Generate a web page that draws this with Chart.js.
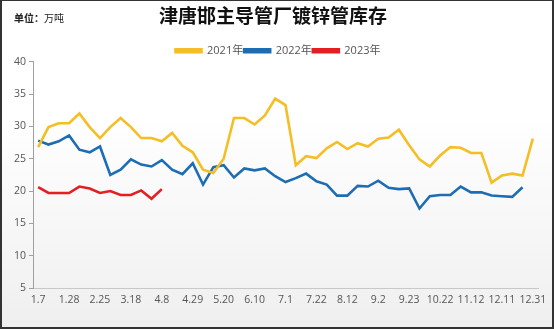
<!DOCTYPE html>
<html lang="zh-CN">
<head>
<meta charset="UTF-8">
<title>津唐邯主导管厂镀锌管库存</title>
<script src="https://cdn.jsdelivr.net/npm/chart.js@4.4.1/dist/chart.umd.min.js"></script>
<style>
    html, body { margin: 0; padding: 0; }
    #marco {
        position: relative;
        width: 554px;
        height: 329px;
        background: linear-gradient(to bottom, #ffffff 35%, #efefef 100%);
        font-family: "Noto Sans CJK SC", "Noto Sans", sans-serif;
    }
    #borde {
        position: absolute;
        left: 0; top: 0; right: 0; bottom: 0;
        border: 2px solid #333;
        border-top-width: 1px;
        pointer-events: none;
    }
    #unidad {
        position: absolute;
        left: 14px;
        top: 10px;
        font-size: 10px;
        color: #222;
    }
    #unidad b { font-weight: bold; }
    canvas { display: block; }
</style>
</head>
<body>
<div id="marco">
    <canvas id="myChart" width="554" height="329"></canvas>
    <div id="unidad"><b>单位：</b>万吨</div>
    <div id="borde"></div>
</div>
<script>
// Semanas del año (una por punto) y las que se rotulan en el eje X
const semanas = ['1.7', '1.14', '1.21', '1.28', '2.4', '2.18', '2.25', '3.4', '3.11', '3.18',
    '3.25', '4.1', '4.8', '4.15', '4.22', '4.29', '5.6', '5.13', '5.20', '5.27',
    '6.3', '6.10', '6.17', '6.24', '7.1', '7.8', '7.15', '7.22', '7.29', '8.5',
    '8.12', '8.19', '8.26', '9.2', '9.9', '9.16', '9.23', '9.30', '10.14', '10.22',
    '10.28', '11.4', '11.12', '11.18', '11.25', '12.11', '12.17', '12.24', '12.31'];
const etiquetasX = ['1.7', '1.28', '2.25', '3.18', '4.8', '4.29', '5.20', '6.10', '7.1',
    '7.22', '8.12', '9.2', '9.23', '10.22', '11.12', '12.11', '12.31'];

// Inventario semanal (万吨)
const inv2021 = [26.8, 29.9, 30.5, 30.5, 32.0, 29.9, 28.2, 29.9, 31.3, 29.9,
    28.2, 28.2, 27.7, 29.0, 27.0, 26.0, 23.3, 22.8, 25.0, 31.3,
    31.3, 30.3, 31.7, 34.3, 33.3, 24.0, 25.4, 25.1, 26.6, 27.6,
    26.5, 27.4, 26.9, 28.1, 28.3, 29.5, 27.1, 24.9, 23.8, 25.5,
    26.8, 26.7, 25.9, 25.9, 21.3, 22.4, 22.7, 22.4, 28.1];
const inv2022 = [27.8, 27.2, 27.7, 28.6, 26.4, 26.0, 26.9, 22.5, 23.3, 24.9,
    24.1, 23.8, 24.8, 23.3, 22.6, 24.3, 21.0, 23.7, 24.0, 22.1,
    23.5, 23.2, 23.5, 22.3, 21.4, 22.0, 22.7, 21.5, 21.0, 19.3,
    19.3, 20.8, 20.7, 21.6, 20.5, 20.3, 20.4, 17.3, 19.2, 19.4,
    19.4, 20.7, 19.8, 19.8, 19.3, 19.2, 19.1, 20.6];
const inv2023 = [20.6, 19.7, 19.7, 19.7, 20.7, 20.4, 19.7, 20.0, 19.4, 19.4,
    20.1, 18.8, 20.3];

const ticksY = [5, 10, 15, 20, 25, 30, 35, 40];

const fuente = '"Open Sans", "Noto Sans CJK SC", sans-serif';

function serie(label, data, color) {
    return {
        label,
        data,
        borderColor: color,
        backgroundColor: color,
        borderWidth: 2.6,
        pointRadius: 0,
        pointHoverRadius: 0,
        tension: 0,
        fill: false
    };
}

// Desplaza título y leyenda un poco a la derecha (el área del gráfico no se toca)
const desplazarCabecera = {
    id: 'desplazarCabecera',
    afterLayout(chart) {
        chart.titleBlock.left += 4;
        chart.titleBlock.right += 4;
        chart.legend.left += 9;
        chart.legend.right += 9;
    }
};

function graficar() {
    const ctx = document.getElementById('myChart').getContext('2d');

    new Chart(ctx, {
        type: 'line',
        data: {
            labels: semanas,
            datasets: [
                serie('2021年', inv2021, '#F4BE24'),
                serie('2022年', inv2022, '#1C6DB3'),
                serie('2023年', inv2023, '#E51E22')
            ]
        },
        plugins: [desplazarCabecera],
        options: {
            responsive: false,
            animation: false,
            layout: { padding: { left: 0, right: 16, top: 0, bottom: 0 } },
            plugins: {
                tooltip: { enabled: false },
                title: {
                    display: true,
                    text: '津唐邯主导管厂镀锌管库存',
                    color: '#111',
                    font: { family: '"Noto Sans CJK SC", sans-serif', size: 19, weight: 'bold' },
                    padding: { top: 4, bottom: 17.5 }
                },
                legend: {
                    display: true,
                    position: 'top',
                    maxHeight: 17.5,
                    labels: {
                        boxWidth: 26,
                        boxHeight: 3,
                        color: '#555',
                        padding: 1,
                        font: { family: fuente, size: 11 }
                    }
                }
            },
            scales: {
                x: {
                    offset: true,
                    grid: { display: false, drawTicks: false },
                    border: { display: true, color: '#c8c8c8', width: 1 },
                    ticks: {
                        autoSkip: false,
                        maxRotation: 0,
                        padding: 6,
                        color: '#555',
                        font: { family: fuente, size: 10.5 },
                        callback: (val, i) => etiquetasX.includes(semanas[i]) ? semanas[i] : ''
                    },
                    afterFit: (scale) => { scale.height = 41; }
                },
                y: {
                    min: ticksY[0],
                    max: ticksY[ticksY.length - 1],
                    afterBuildTicks: (scale) => { scale.ticks = ticksY.map(v => ({ value: v })); },
                    grid: { drawOnChartArea: false, drawTicks: true, tickLength: 4, color: '#a0a0a0' },
                    border: { display: true, color: '#a0a0a0', width: 1 },
                    ticks: {
                        padding: 3,
                        color: '#555',
                        font: { family: fuente, size: 10.5 }
                    },
                    afterFit: (scale) => { scale.width = 33; }
                }
            }
        }
    });
}

document.addEventListener('DOMContentLoaded', graficar);
</script>
</body>
</html>
